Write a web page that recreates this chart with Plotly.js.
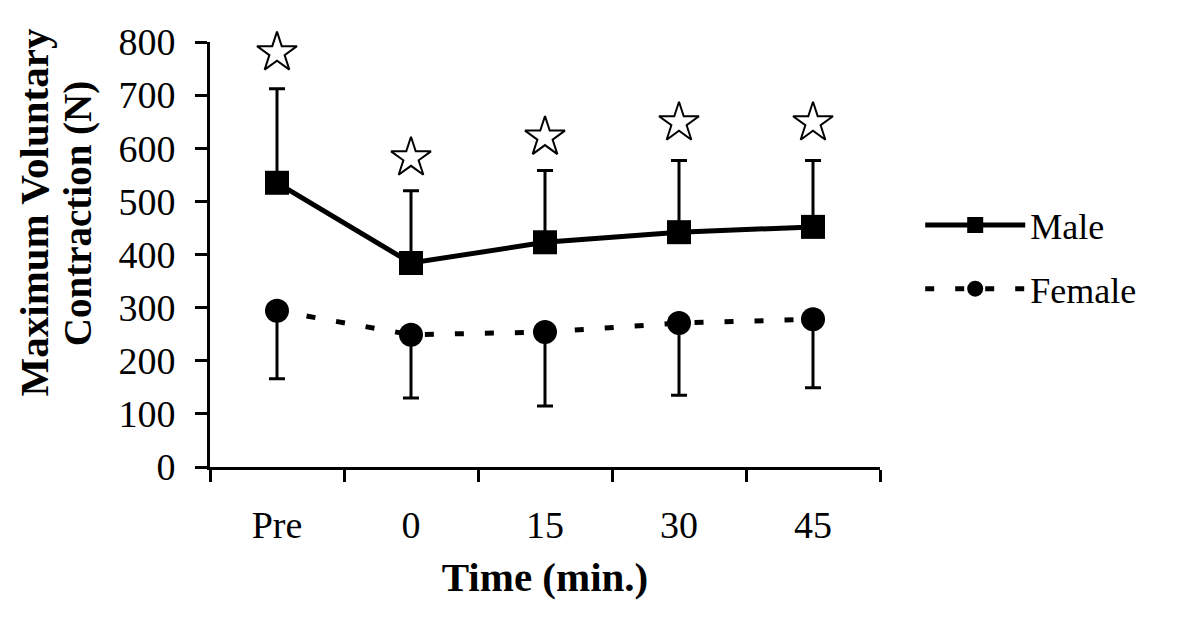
<!DOCTYPE html>
<html>
<head>
<meta charset="utf-8">
<script src="https://cdn.plot.ly/plotly-3.0.1.min.js"></script>
<style>html,body{margin:0;padding:0;background:#fff;}#chart{width:1200px;height:632px;}</style>
</head>
<body>
<div id="chart"></div>
<script>
const categories = ["Pre", "0", "15", "30", "45"];
const maleMean = [535, 384, 423, 442, 452];
const maleSD = [177, 136, 135, 135, 125];
const femaleMean = [294, 249, 254, 271, 278];
const femaleSD = [128, 119, 139, 136, 129];
const starY = [780, 582, 621, 648, 648];
const zeros = categories.map(() => 0);
const yTitleLines = ["Maximum Voluntary", "Contraction (N)"];

const serif = "Liberation Serif, Times New Roman, serif";

const traces = [
  {
    type: "scatter", mode: "lines+markers", name: "Male", legendgroup: "m",
    x: categories, y: maleMean, cliponaxis: false,
    line: {color: "#000", width: 5},
    marker: {symbol: "square", size: 24, color: "#000"},
    error_y: {type: "data", symmetric: false, array: maleSD, arrayminus: zeros,
              color: "#000", thickness: 3, width: 8}
  },
  {
    type: "scatter", mode: "lines+markers", name: "Female", legendgroup: "f",
    x: categories, y: femaleMean, cliponaxis: false,
    line: {color: "#000", width: 5, dash: "9px,21px"},
    marker: {symbol: "circle", size: 24, color: "#000"},
    error_y: {type: "data", symmetric: false, array: zeros, arrayminus: femaleSD,
              color: "#000", thickness: 3, width: 8}
  },
  {
    type: "scatter", mode: "markers", name: "significance", showlegend: false,
    x: categories, y: starY, cliponaxis: false,
    marker: {symbol: "star-open", size: 30, color: "#000", line: {color: "#000", width: 2}}
  }
];

const layout = {
  width: 1200, height: 632,
  paper_bgcolor: "#fff", plot_bgcolor: "#fff",
  margin: {l: 210, r: 320, t: 42, b: 165},
  font: {family: serif, color: "#000", size: 36},
  showlegend: true,
  legend: {x: 1.06, y: 0.64, xanchor: "left", yanchor: "top",
           font: {family: serif, size: 36, color: "#000"},
           traceorder: "grouped", tracegroupgap: 14,
           itemwidth: 100, bgcolor: "rgba(0,0,0,0)"},
  xaxis: {
    type: "category", range: [-0.5, 4.5], tickson: "boundaries",
    showline: true, linecolor: "#000", linewidth: 3,
    ticks: "outside", ticklen: 12, tickwidth: 3, tickcolor: "#000",
    ticklabelstandoff: 22,
    showgrid: false, zeroline: false,
    tickfont: {family: serif, size: 38, color: "#000"},
    title: {text: "<b>Time (min.)</b>", font: {family: serif, size: 41, color: "#000"}, standoff: 18}
  },
  yaxis: {
    range: [0, 800], dtick: 100, tick0: 0,
    showline: true, linecolor: "#000", linewidth: 3,
    ticks: "outside", ticklen: 12, tickwidth: 3, tickcolor: "#000",
    ticklabelstandoff: 12,
    showgrid: false, zeroline: false,
    tickfont: {family: serif, size: 38, color: "#000"}
  },
  annotations: [
    {text: "<b>" + yTitleLines[0] + "</b>", xref: "paper", yref: "paper",
     x: -0.262, y: 0.60, xanchor: "center", yanchor: "middle", textangle: -90,
     showarrow: false, font: {family: serif, size: 41, color: "#000"}},
    {text: "<b>" + yTitleLines[1] + "</b>", xref: "paper", yref: "paper",
     x: -0.197, y: 0.595, xanchor: "center", yanchor: "middle", textangle: -90,
     showarrow: false, font: {family: serif, size: 39, color: "#000"}}
  ]
};

Plotly.newPlot("chart", traces, layout, {displayModeBar: false, responsive: false});
</script>
</body>
</html>
